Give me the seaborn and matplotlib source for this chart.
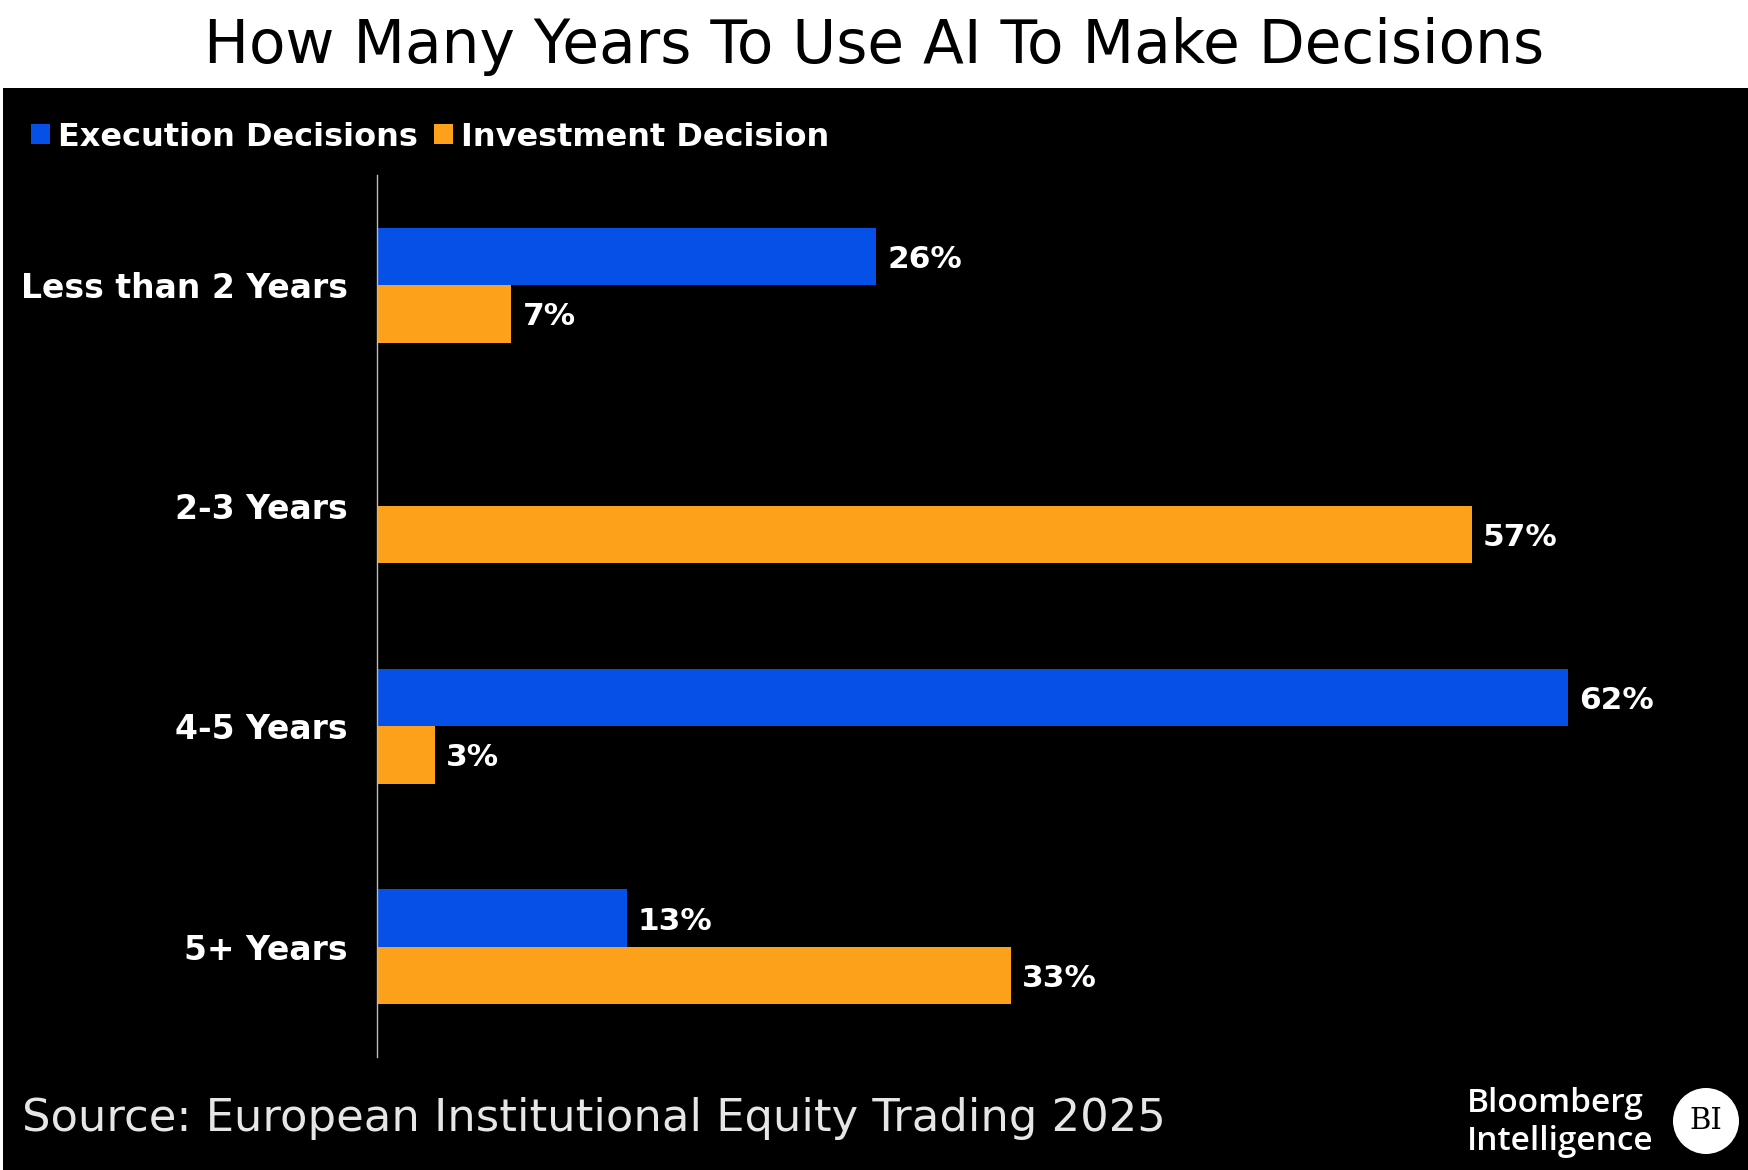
"""
How Many Years To Use AI To Make Decisions - Bloomberg Intelligence style bar chart
"""

import pandas as pd
import matplotlib.pyplot as plt
import matplotlib.patches as mpatches
import seaborn as sns

# Data
categories = ["Less than 2 Years", "2-3 Years", "4-5 Years", "5+ Years"]
execution = [26, 0, 62, 13]
investment = [7, 57, 3, 33]
series_names = ["Execution Decisions", "Investment Decision"]
colors = ["#0550E6", "#FCA119"]

df = pd.DataFrame({
    "period": categories * 2,
    "value": execution + investment,
    "series": [series_names[0]] * 4 + [series_names[1]] * 4,
})

# Style settings
sns.set_style("white")
plt.rcParams['font.family'] = ['DejaVu Sans']

W, H = 1748, 1170
fig = plt.figure(figsize=(W / 100, H / 100), dpi=100, facecolor="white")

# black panel behind the chart
fig.patches.append(mpatches.Rectangle((3 / W, 0), 1, (H - 88) / H, transform=fig.transFigure,
                                      facecolor="black", edgecolor="none", zorder=-1))

ax = fig.add_axes([377 / W, 113 / H, (1702 - 377) / W, (1057 - 175) / H])
ax.set_facecolor("none")

sns.barplot(data=df, y="period", x="value", hue="series", hue_order=series_names,
            order=categories, palette=colors, width=0.52, gap=0, orient="h",
            saturation=1, linewidth=0, ax=ax, legend=True)

for cont in ax.containers:
    labels = [f"{v:.0f}%" if v > 0 else "" for v in cont.datavalues]
    texts = ax.bar_label(cont, labels=labels, padding=8, color="white", fontsize=22.5,
                         fontweight="bold")
    for t in texts:
        t.set_va("center_baseline")

ax.set_xlim(0, 69)
ax.set_ylim(3.5, -0.5)
ax.set_xlabel("")
ax.set_ylabel("")
ax.set_xticks([])
ax.tick_params(axis="y", length=0, pad=21, labelsize=23.8, labelcolor="white")
for lab in ax.get_yticklabels():
    lab.set_fontweight("bold")
for side in ["top", "right", "bottom"]:
    ax.spines[side].set_visible(False)
ax.spines["left"].set_color("#bbbbbb")
ax.spines["left"].set_linewidth(1)
ax.spines["left"].set_zorder(5)

# Legend
handles, labels = ax.get_legend_handles_labels()
leg = ax.legend(handles, labels, loc="center left", bbox_to_anchor=(31 / W, (H - 137) / H),
                bbox_transform=fig.transFigure, ncol=2, frameon=False,
                handlelength=0.6, handleheight=0.6, handletextpad=0.25,
                columnspacing=0.5, fontsize=23, borderaxespad=0, borderpad=0)
for t in leg.get_texts():
    t.set_color("white")
    t.set_fontweight("bold")

# Title
fig.text(0.5, (H - 46) / H, "How Many Years To Use AI To Make Decisions",
         ha="center", va="center", fontsize=43, color="black")

# Source
fig.text(22 / W, (H - 1118) / H, "Source: European Institutional Equity Trading 2025",
         ha="left", va="center", fontsize=32.3, color="#e6e6e6")

# Bloomberg Intelligence mark
fig.text(1467 / W, (H - 1103) / H, "Bloomberg", ha="left", va="center",
         fontsize=24, fontweight="semibold", color="white", family=["Open Sans", "DejaVu Sans"])
fig.text(1467 / W, (H - 1141) / H, "Intelligence", ha="left", va="center",
         fontsize=24, fontweight="semibold", color="white", family=["Open Sans", "DejaVu Sans"])
fig.patches.append(mpatches.Ellipse((1706 / W, (H - 1121) / H), 66 / W, 66 / H,
                                    transform=fig.transFigure, facecolor="white",
                                    edgecolor="none", zorder=1))
fig.text(1706 / W, (H - 1121) / H, "BI", ha="center", va="center", fontsize=21,
         color="black", family=["DejaVu Serif"], zorder=2)

plt.savefig("out.png", dpi=100, facecolor="white")
plt.close()
print("Saved: out.png")
